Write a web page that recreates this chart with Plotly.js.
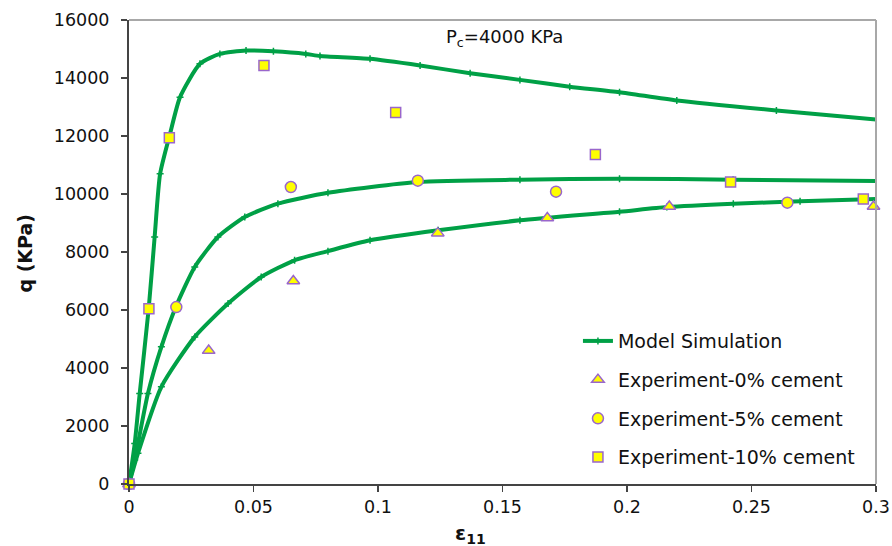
<!DOCTYPE html>
<html>
<head>
<meta charset="utf-8">
<script src="https://cdn.plot.ly/plotly-3.0.1.min.js"></script>
<style>html,body{margin:0;padding:0;background:#fff}#chart{width:892px;height:546px}</style>
</head>
<body>
<div id="chart"></div>
<script>
// Model simulation curves (strain, q in KPa)
const modelX10 = [0, 0.0023, 0.0043, 0.0079, 0.0103, 0.0125, 0.0165, 0.0205, 0.0285, 0.0365, 0.047, 0.058, 0.071, 0.0767, 0.0968, 0.1169, 0.137, 0.157, 0.177, 0.197, 0.220, 0.260, 0.300];
const modelY10 = [0, 1400, 3120, 6040, 8520, 10700, 12080, 13340, 14490, 14830, 14950, 14920, 14830, 14760, 14660, 14430, 14165, 13935, 13700, 13510, 13225, 12880, 12570];
const modelX5 = [0, 0.0023, 0.0076, 0.013, 0.0188, 0.0264, 0.0357, 0.0465, 0.0598, 0.0799, 0.1158, 0.157, 0.197, 0.2426, 0.300];
const modelY5 = [0, 830, 3120, 4730, 6106, 7484, 8517, 9206, 9667, 10040, 10412, 10494, 10530, 10494, 10446];
const modelX0 = [0, 0.0036, 0.013, 0.0264, 0.0398, 0.0531, 0.0665, 0.0799, 0.0968, 0.1242, 0.157, 0.197, 0.216, 0.2427, 0.2695, 0.300];
const modelY0 = [0, 1057, 3351, 5073, 6223, 7139, 7715, 8030, 8403, 8748, 9092, 9390, 9550, 9667, 9746, 9826];

// Experimental data
const exp0X = [0, 0.032, 0.066, 0.124, 0.168, 0.217, 0.299];
const exp0Y = [0, 4600, 7000, 8650, 9170, 9570, 9570];
const exp5X = [0, 0.019, 0.065, 0.116, 0.1715, 0.2644];
const exp5Y = [0, 6100, 10240, 10460, 10080, 9700];
const exp10X = [0, 0.008, 0.0162, 0.0542, 0.1071, 0.1873, 0.2416, 0.2949];
const exp10Y = [0, 6040, 11940, 14430, 12810, 11365, 10410, 9826];

const xTicks = [0, 0.05, 0.1, 0.15, 0.2, 0.25, 0.3];
const xTickText = ['0', '0.05', '0.1', '0.15', '0.2', '0.25', '0.3'];
const yTicks = [0, 2000, 4000, 6000, 8000, 10000, 12000, 14000, 16000];
const yTickText = ['0', '2000', '4000', '6000', '8000', '10000', '12000', '14000', '16000'];

const green = '#00A046';
const fillY = '#FFFF00';
const edge = '#9966CC';
const FONT = 'DejaVu Sans, Arial, sans-serif';

function model(x, y, show) {
  return {
    x: x, y: y, type: 'scatter', mode: 'lines+markers',
    name: 'Model Simulation', showlegend: show, legendgroup: 'm',
    line: {color: green, width: 4, shape: 'spline', smoothing: 0.6},
    marker: {symbol: 'cross-thin', size: 5, color: green, line: {color: green, width: 1.5}},
    hoverinfo: 'skip'
  };
}
function exp(x, y, name, sym, size, grp) {
  return {
    x: x, y: y, type: 'scatter', mode: 'markers', name: name, legendgroup: grp,
    marker: {symbol: sym, size: size, color: fillY, line: {color: edge, width: 1.5}},
    cliponaxis: false
  };
}

const data = [
  model(modelX10, modelY10, true),
  model(modelX5, modelY5, false),
  model(modelX0, modelY0, false),
  exp(exp0X, exp0Y, 'Experiment-0% cement', 'triangle-up', 11, 'e0'),
  exp(exp5X, exp5Y, 'Experiment-5% cement', 'circle', 11, 'e5'),
  exp(exp10X, exp10Y, 'Experiment-10% cement', 'square', 10, 'e10')
];

const tickFont = {family: FONT, size: 17.5, color: '#111'};

const layout = {
  width: 892, height: 546,
  margin: {l: 129, r: 16, t: 20, b: 62},
  paper_bgcolor: '#fff', plot_bgcolor: '#fff',
  showlegend: true,
  legend: {
    x: 0.601, y: 0.349, xanchor: 'left', yanchor: 'top',
    font: {family: FONT, size: 19, color: '#111'},
    bgcolor: 'rgba(255,255,255,0)', tracegroupgap: 11
  },
  xaxis: {
    range: [0, 0.3], tickvals: xTicks, ticktext: xTickText,
    showgrid: false, zeroline: false,
    showline: true, linecolor: '#444', linewidth: 2,
    ticks: 'outside', ticklen: 6, tickwidth: 1.5, tickcolor: '#444',
    tickfont: tickFont
  },
  yaxis: {
    range: [0, 16000], tickvals: yTicks, ticktext: yTickText,
    showgrid: false, zeroline: false,
    showline: true, linecolor: '#444', linewidth: 2,
    ticks: 'outside', ticklen: 6, tickwidth: 1.5, tickcolor: '#444',
    ticklabelstandoff: 8,
    tickfont: tickFont
  },
  shapes: [
    {type: 'line', xref: 'paper', yref: 'paper', x0: 0, x1: 1, y0: 1, y1: 1, line: {color: '#A8A8A8', width: 2}},
    {type: 'line', xref: 'paper', yref: 'paper', x0: 1, x1: 1, y0: 0, y1: 1, line: {color: '#A8A8A8', width: 2}}
  ],
  annotations: [
    {xref: 'paper', yref: 'paper', x: 0.503, y: 0.962, xanchor: 'center', yanchor: 'middle', showarrow: false,
     text: 'P<sub>c</sub>=4000 KPa', font: {family: FONT, size: 18, color: '#111'}},
    {xref: 'paper', yref: 'paper', x: -0.139, y: 0.497, xanchor: 'center', yanchor: 'middle', showarrow: false,
     textangle: -90, text: '<b>q (KPa)</b>', font: {family: FONT, size: 19, color: '#111'}},
    {xref: 'paper', yref: 'paper', x: 0.457, y: -0.108, xanchor: 'center', yanchor: 'middle', showarrow: false,
     text: '<b>ε<sub>11</sub></b>', font: {family: FONT, size: 20, color: '#111'}}
  ]
};

Plotly.newPlot('chart', data, layout, {displayModeBar: false, staticPlot: true});
</script>
</body>
</html>
